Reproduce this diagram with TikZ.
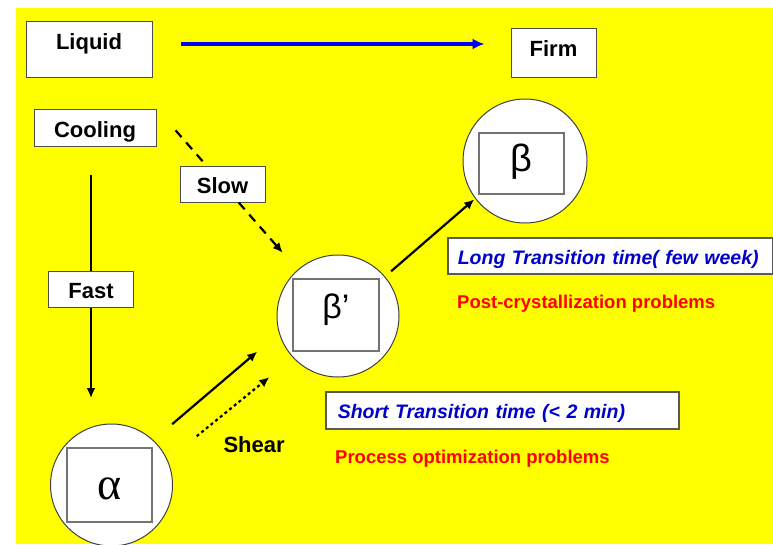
\documentclass[tikz,border=0pt]{standalone}
\usepackage{fontspec}
\setsansfont{Liberation Sans}
\newfontfamily\greekserif{Liberation Serif}
\usetikzlibrary{arrows.meta}
\definecolor{sheetyellow}{RGB}{255,255,0}
\definecolor{noteblue}{RGB}{0,0,204}
\definecolor{notered}{RGB}{255,0,0}

\begin{document}
\begin{tikzpicture}[
        x=1pt, y=-1pt,
        every node/.style={font=\sffamily},
        state/.style={
            rectangle,
            draw=black!70,
            fill=white,
            line width=1pt,
            inner sep=0pt,
            text height=19pt,
            text depth=0pt,
            font=\sffamily\bfseries\fontsize{22}{26}\selectfont
        },
        phase/.style={
            circle,
            draw=black!75,
            fill=white,
            line width=1pt,
            inner sep=0pt,
            outer sep=0pt,
            minimum size=122pt
        },
        crystal/.style={
            rectangle,
            draw=black!55,
            fill=white,
            line width=1.5pt,
            inner sep=0pt
        },
        trans/.style={
            rectangle,
            draw=black!65,
            fill=white,
            line width=1.5pt,
            anchor=west,
            align=left,
            minimum height=36pt,
            text depth=0pt,
            text=noteblue,
            font=\sffamily\bfseries\itshape\fontsize{19.5}{24}\selectfont
        },
        note/.style={
            anchor=base west,
            inner sep=0pt,
            text=notered,
            font=\sffamily\bfseries\fontsize{18.5}{22}\selectfont
        },
        link/.style={
            line width=2.2pt
        },
        arrow/.style={
            link,
            ->,
            >={Latex[length=10pt,width=9pt]}
        }
    ]
    \useasboundingbox (0,0) rectangle (773,544);
    \fill[white] (0,0) rectangle (773,544);
    \fill[sheetyellow] (16,8) rectangle (773,544);

    % States
    \node[state, minimum width=126pt, text height=28pt, text depth=28pt] (liquid) at (89,49) {Liquid};
    \node[state, minimum width=85pt, minimum height=49pt, text height=11pt, text depth=4pt] (firm) at (553.5,52.5) {Firm};
    \node[state, minimum width=122pt, minimum height=37pt] (cooling) at (95,127.5) {Cooling};
    \node[state, minimum width=85pt, minimum height=36pt] (slow) at (222.5,184) {Slow};
    \node[state, minimum width=85pt, minimum height=36pt] (fast) at (91,289) {Fast};

    % Polymorphs
    \node[phase] (alpha) at (111.5,485) {};
    \node[crystal, minimum width=85pt, minimum height=74pt, text height=29pt, text depth=0pt,
        font=\greekserif\fontsize{46}{50}\selectfont] (alphabox) at (109.5,485) {α};
    \node[phase] (betap) at (338,316) {};
    \node[crystal, minimum width=86pt, minimum height=72pt, text height=25pt, text depth=19pt,
        font=\sffamily\fontsize{34}{38}\selectfont] (betapbox) at (336,315) {β’};
    \node[phase, minimum size=124pt] (beta) at (525,161) {};
    \node[crystal, minimum width=85pt, minimum height=61pt, text height=28pt, text depth=12pt,
        font=\sffamily\fontsize{38}{42}\selectfont] (betabox) at (521.5,163.5) {β};

    % Transition times
    \node[trans, text width=305pt, inner xsep=10pt, text height=17pt] (longtime) at (447,256) {\mbox{Long Transition time( few week)}};
    \node[trans, text width=329pt, inner xsep=12pt, minimum height=37pt, text height=15pt] (shorttime) at (325,410.5) {Short Transition time (< 2 min)};
    \node[note] (postcryst) at (457,308.5) {Post-crystallization problems};
    \node[note] (processopt) at (335,463.5) {Process optimization problems};
    \node[state, draw=none, fill=none, anchor=base west, text height=0pt] (shear) at (223,452) {Shear};

    % Liquid to firm
    \draw[arrow, draw=blue, line width=3.5pt, >={Latex[length=12pt,width=11pt]},
        shorten <=28pt, shorten >=26pt] ([yshift=5pt]liquid.east) -- ([yshift=5pt]liquid.east -| firm.west);

    % Slow cooling
    \draw[link, dash pattern=on 9pt off 7pt, shorten <=29pt] (cooling.north east) -- (slow);
    \draw[arrow, dash pattern=on 9pt off 7pt, shorten >=23pt] (slow) -- (betap);

    % Fast cooling
    \draw[link, shorten <=28pt] (fast.north |- cooling.south) -- (fast.north);
    \draw[arrow, shorten >=26pt] (fast.south) -- (fast.south |- alpha.north);

    % Transitions
    \draw[arrow, shorten <=25pt, shorten >=29pt] (alpha.47) -- (betap.196);
    \draw[arrow, dash pattern=on 3pt off 3pt, shorten <=38pt, shorten >=31pt] (alpha.24) -- (betap.223);
    \draw[arrow, shorten <=8.5pt, shorten >=1.6pt] (betap.40) -- (beta.217);
\end{tikzpicture}
\end{document}
